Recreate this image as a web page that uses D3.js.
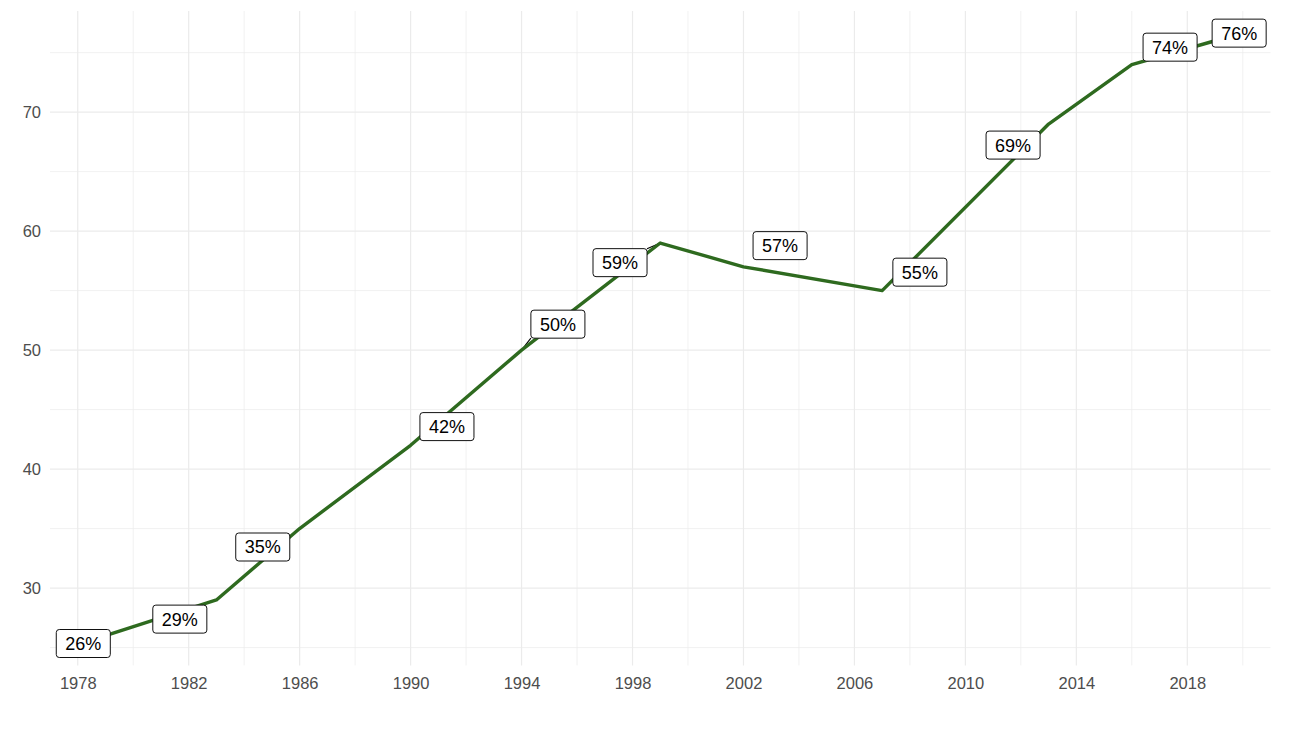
<!DOCTYPE html>
<html>
<head>
<meta charset="utf-8">
<script src="https://cdn.jsdelivr.net/npm/d3@7"></script>
<style>
  html, body { margin: 0; padding: 0; background: #ffffff; }
  svg { display: block; }
</style>
</head>
<body>
<svg id="chart" width="1298" height="732"></svg>
<script>
// ---- data ----
const years  = [1979, 1983, 1986, 1990, 1994, 1999, 2002, 2007, 2013, 2016, 2019];
const values = [26, 29, 35, 42, 50, 59, 57, 55, 69, 74, 76];
const labelTexts  = ["26%", "29%", "35%", "42%", "50%", "59%", "57%", "55%", "69%", "74%", "76%"];
// repelled label anchor positions (data units)
const labelYears  = [1978.2, 1981.68, 1984.67, 1991.31, 1995.31, 1997.55, 2003.32, 2008.36, 2011.72, 2017.38, 2019.87];
const labelValues = [25.34, 27.39, 33.45, 43.57, 52.18, 57.35, 58.78, 56.55, 67.23, 75.46, 76.64];
const xTicks = [1978, 1982, 1986, 1990, 1994, 1998, 2002, 2006, 2010, 2014, 2018];
const xMinor = [1980, 1984, 1988, 1992, 1996, 2000, 2004, 2008, 2012, 2016, 2020];
const yTicks = [30, 40, 50, 60, 70];
const yMinor = [25, 35, 45, 55, 65, 75];

// ---- layout ----
const panel = { left: 50, right: 1270.5, top: 11, bottom: 665.4 };
const svg = d3.select("#chart");

const x = d3.scaleLinear().domain([1977, 2021]).range([panel.left, panel.right]);
const y = d3.scaleLinear().domain([23.5, 78.5]).range([panel.bottom, panel.top]);

const grid = svg.append("g");
const gridColor = "#ebebeb";

// minor grid
grid.selectAll("line.vminor").data(xMinor).join("line")
  .attr("x1", d => x(d)).attr("x2", d => x(d))
  .attr("y1", panel.top).attr("y2", panel.bottom)
  .attr("stroke", gridColor).attr("stroke-width", 0.7);
grid.selectAll("line.hminor").data(yMinor).join("line")
  .attr("y1", d => y(d)).attr("y2", d => y(d))
  .attr("x1", panel.left).attr("x2", panel.right)
  .attr("stroke", gridColor).attr("stroke-width", 0.7);
// major grid
grid.selectAll("line.vmajor").data(xTicks).join("line")
  .attr("x1", d => x(d)).attr("x2", d => x(d))
  .attr("y1", panel.top).attr("y2", panel.bottom)
  .attr("stroke", gridColor).attr("stroke-width", 1.2);
grid.selectAll("line.hmajor").data(yTicks).join("line")
  .attr("y1", d => y(d)).attr("y2", d => y(d))
  .attr("x1", panel.left).attr("x2", panel.right)
  .attr("stroke", gridColor).attr("stroke-width", 1.2);

// axes (text only, theme_minimal)
const font = "'Liberation Sans', Arial, sans-serif";
const xAxis = d3.axisBottom(x).tickValues(xTicks).tickFormat(d3.format("d")).tickSize(0).tickPadding(0);
const gx = svg.append("g").attr("transform", `translate(0,${panel.bottom + 12})`).call(xAxis);
gx.select(".domain").remove();
gx.selectAll("text").attr("fill", "#4d4d4d").style("font-family", font).style("font-size", "16.5px").attr("dy", "0.71em");

const yAxis = d3.axisLeft(y).tickValues(yTicks).tickFormat(d3.format("d")).tickSize(0).tickPadding(0);
const gy = svg.append("g").attr("transform", `translate(${panel.left - 9},0)`).call(yAxis);
gy.select(".domain").remove();
gy.selectAll("text").attr("fill", "#4d4d4d").style("font-family", font).style("font-size", "16.5px");

const segLayer = svg.append("g");

// line
const pts = years.map((yr, i) => ({ yr, v: values[i] }));
svg.append("path")
  .datum(pts)
  .attr("fill", "none")
  .attr("stroke", "#2e6a1f")
  .attr("stroke-width", 3.4)
  .attr("stroke-linejoin", "round")
  .attr("stroke-linecap", "butt")
  .attr("d", d3.line().x(d => x(d.yr)).y(d => y(d.v)));

// labels
const lab = svg.append("g");
const boxH = 28;
labelTexts.forEach((t, i) => {
  const cx = x(labelYears[i]), cy = y(labelValues[i]);
  const g = lab.append("g");
  const rect = g.append("rect");
  const txt = g.append("text")
    .attr("x", cx).attr("y", cy)
    .attr("text-anchor", "middle")
    .attr("dy", "0.36em")
    .style("font-family", font)
    .style("font-size", "18px")
    .attr("fill", "#000")
    .text(t);
  const w = txt.node().getComputedTextLength() + 18;
  const x0 = cx - w / 2, x1 = cx + w / 2, y0 = cy - boxH / 2, y1 = cy + boxH / 2;
  rect.attr("x", x0).attr("y", y0)
    .attr("width", w).attr("height", boxH)
    .attr("rx", 3).attr("ry", 3)
    .attr("fill", "#fff").attr("stroke", "#111").attr("stroke-width", 1);
  // segment from nearest box point to data point (ggrepel style)
  const px = x(years[i]), py = y(values[i]);
  const ex = Math.max(x0, Math.min(x1, px)), ey = Math.max(y0, Math.min(y1, py));
  const len = Math.hypot(px - ex, py - ey);
  if (len > 12) {
    segLayer.append("line")
      .attr("x1", ex).attr("y1", ey).attr("x2", px).attr("y2", py)
      .attr("stroke", "#000").attr("stroke-width", 1.1);
  }
});
</script>
</body>
</html>
